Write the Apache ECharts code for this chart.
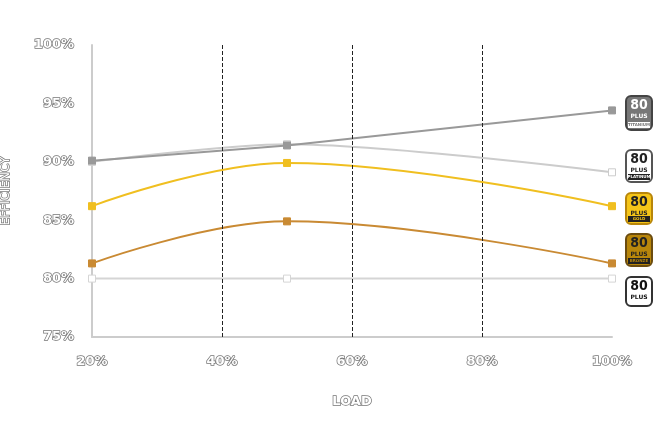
<!DOCTYPE html>
<html>
<head>
<meta charset="utf-8">
<script src="https://cdn.jsdelivr.net/npm/echarts@6/dist/echarts.min.js"></script>
<style>html,body{margin:0;background:#fff}#chart{width:660px;height:440px}</style>
</head>
<body>
<div id="chart"></div>
<script>
var loads = [20, 50, 100];
var titanium = [90.1, 91.4, 94.4];
var platinum = [90.0, 91.5, 89.1];
var gold = [86.2, 89.9, 86.2];
var bronze = [81.3, 84.9, 81.3];
var standard = [80, 80, 80];
var guideLoads = [40, 60, 80];

function pairs(vals) {
  return loads.map(function (x, i) { return [x, vals[i]]; });
}

// 80 PLUS badge drawn as graphic
function badge(cx, top, h, bg, fg, border, sub) {
  var kids = [
    {type: 'rect', shape: {x: -13, y: 0, width: 26, height: h, r: 5},
      style: {fill: bg, stroke: border, lineWidth: 2}},
    {type: 'text', style: {text: '80', x: 0, y: 2, align: 'center', fill: fg,
      font: 'bold 14px "DejaVu Sans Condensed"'}},
    {type: 'text', style: {text: 'PLUS', x: 0, y: 17, align: 'center', fill: fg,
      font: 'bold 6px "DejaVu Sans"'}}
  ];
  if (sub) {
    kids.push({type: 'rect', shape: {x: -11, y: h - 8, width: 22, height: 6}, style: {fill: fg}});
    kids.push({type: 'text', style: {text: sub, x: 0, y: h - 7.5, align: 'center', fill: bg,
      font: 'bold 4px "DejaVu Sans"'}});
  }
  return {type: 'group', x: cx, y: top, children: kids};
}

var labelStyle = {color: '#fff', textBorderColor: '#777', textBorderWidth: 1.5,
  fontFamily: 'DejaVu Sans', fontWeight: 'bold', fontSize: 13};

var chart = echarts.init(document.getElementById('chart'));
function line(name, vals, color, smooth, symColor) {
  return {
    name: name, type: 'line', data: pairs(vals), smooth: smooth,
    symbol: 'rect', symbolSize: 7,
    lineStyle: {color: color, width: 2},
    itemStyle: {color: symColor || color, borderColor: color, borderWidth: 1}
  };
}
var series = [
  line('80 PLUS', standard, '#d5d5d5', false, '#fff'),
  line('Bronze', bronze, '#c98a33', 0.4),
  line('Gold', gold, '#f0bf20', 0.4),
  line('Platinum', platinum, '#cccccc', 0.3, '#fff'),
  line('Titanium', titanium, '#999999', false)
];
series[0].markLine = {
  silent: true, symbol: 'none', label: {show: false},
  lineStyle: {color: '#222', type: 'dashed', width: 1},
  data: guideLoads.map(function (x) { return {xAxis: x}; })
};
chart.setOption({
  animation: false,
  grid: {left: 92, right: 48, top: 45, bottom: 103, outerBoundsMode: 'none'},
  xAxis: {
    type: 'value', min: 20, max: 100, interval: 20,
    name: 'LOAD', nameLocation: 'middle', nameGap: 58,
    nameTextStyle: labelStyle,
    axisLine: {lineStyle: {color: '#ccc', width: 2}}, axisTick: {show: false},
    splitLine: {show: false},
    axisLabel: Object.assign({formatter: '{value}%', margin: 18}, labelStyle)
  },
  yAxis: {
    type: 'value', min: 75, max: 100, interval: 5,
    name: 'EFFICIENCY', nameLocation: 'middle', nameGap: 80,
    nameTextStyle: Object.assign({}, labelStyle, {fontWeight: 'normal', fontSize: 12}),
    axisLine: {show: true, lineStyle: {color: '#ccc', width: 2}}, axisTick: {show: false},
    splitLine: {show: false},
    axisLabel: Object.assign({formatter: '{value}%', margin: 18}, labelStyle)
  },
  series: series,
  graphic: [
    badge(639, 96, 34, '#777', '#fff', '#444', 'TITANIUM'),
    badge(639, 150, 32, '#fff', '#222', '#555', 'PLATINUM'),
    badge(639, 193, 31, '#f5c518', '#222', '#b8860b', 'GOLD'),
    badge(639, 234, 32, '#b8860b', '#222', '#6b4c10', 'BRONZE'),
    badge(639, 277, 29, '#fff', '#111', '#333', null)
  ]
});
</script>
</body>
</html>
